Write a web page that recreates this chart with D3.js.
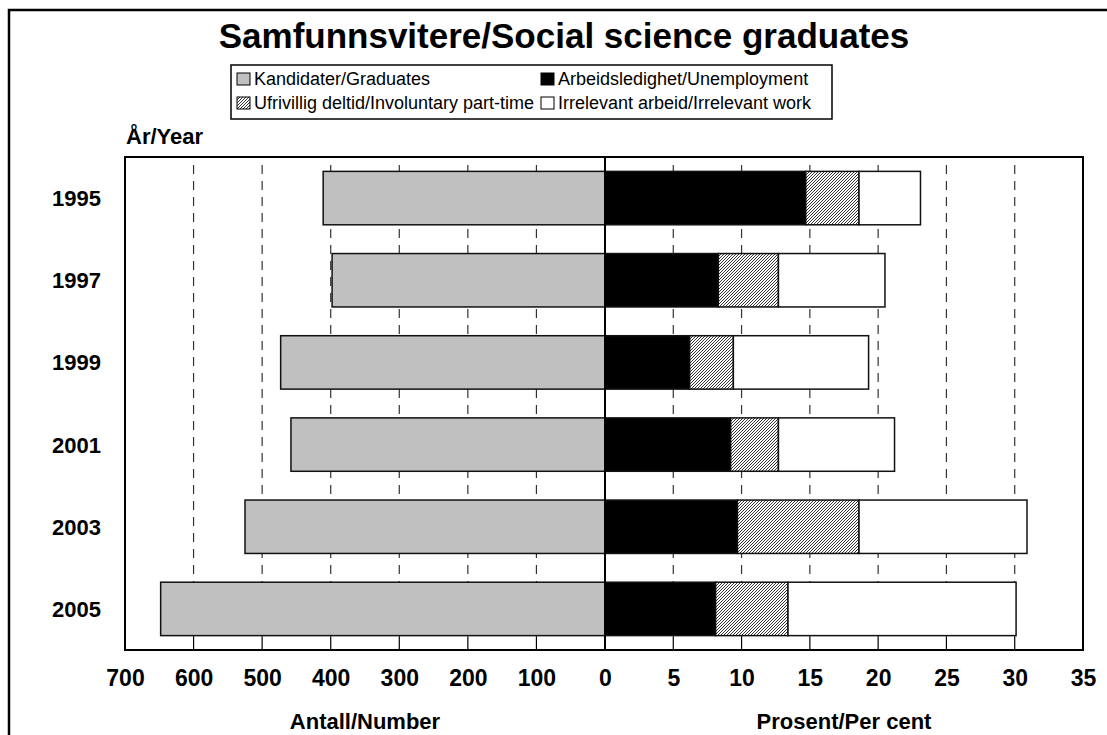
<!DOCTYPE html>
<html>
<head>
<meta charset="utf-8">
<script src="https://cdn.jsdelivr.net/npm/d3@7"></script>
<style>
  body { margin: 0; background: #fff; }
  svg { display: block; font-family: "Liberation Sans", Arial, sans-serif; }
  .tick text { font-weight: bold; font-size: 23px; fill: #000; }
</style>
</head>
<body>
<svg id="chart" width="1107" height="735"></svg>
<script>
/* data */
const years = ['1995', '1997', '1999', '2001', '2003', '2005'];
const graduates = [411, 398, 473, 458, 525, 648];
const unemployment = [14.7, 8.3, 6.2, 9.2, 9.7, 8.1];
const partTime = [3.9, 4.4, 3.2, 3.5, 8.9, 5.3];
const irrelevant = [4.5, 7.8, 9.9, 8.5, 12.3, 16.7];

const numberTicks = [700, 600, 500, 400, 300, 200, 100];
const percentTicks = [0, 5, 10, 15, 20, 25, 30, 35];

const legendItems = [
  { label: 'Kandidater/Graduates', fill: '#c0c0c0' },
  { label: 'Arbeidsledighet/Unemployment', fill: '#000' },
  { label: 'Ufrivillig deltid/Involuntary part-time', fill: 'url(#hatch)' },
  { label: 'Irrelevant arbeid/Irrelevant work', fill: '#fff' }
];

/* layout */
const plot = { left: 125, mid: 605, right: 1083, top: 157, bottom: 650 };

const svg = d3.select('#chart');

/* hatch pattern for involuntary part-time */
const defs = svg.append('defs');
const pat = defs.append('pattern')
  .attr('id', 'hatch')
  .attr('patternUnits', 'userSpaceOnUse')
  .attr('width', 3).attr('height', 3);
pat.append('rect').attr('width', 3).attr('height', 3).attr('fill', '#fff');
pat.append('path')
  .attr('d', 'M-1,1 l2,-2 M0,3 l3,-3 M2,4 l2,-2')
  .attr('stroke', '#000').attr('stroke-width', 0.8);

/* outer frame */
svg.append('rect')
  .attr('x', 9).attr('y', 10).attr('width', 1120).attr('height', 740)
  .attr('fill', 'none').attr('stroke', '#000').attr('stroke-width', 2.5);

/* scales */
const xNum = d3.scaleLinear().domain([700, 0]).range([plot.left, plot.mid]);
const xPct = d3.scaleLinear().domain([0, 35]).range([plot.mid, plot.right]);
const y = d3.scaleBand().domain(years)
  .range([plot.top, plot.bottom])
  .paddingInner(0.35).paddingOuter(0.175);

/* gridlines */
const grid = svg.append('g');
const gridX = numberTicks.filter(d => d !== 700).map(d => xNum(d))
  .concat(percentTicks.filter(d => d !== 0 && d !== 35).map(d => xPct(d)));
grid.selectAll('line.dash').data(gridX).join('line')
  .attr('class', 'dash')
  .attr('x1', d => d).attr('x2', d => d)
  .attr('y1', plot.top + 8).attr('y2', plot.bottom - 13)
  .attr('stroke', '#333').attr('stroke-width', 1.2)
  .attr('stroke-dasharray', '9,7');
grid.selectAll('line.tk').data(gridX).join('line')
  .attr('class', 'tk')
  .attr('x1', d => d).attr('x2', d => d)
  .attr('y1', plot.bottom - 13).attr('y2', plot.bottom)
  .attr('stroke', '#000').attr('stroke-width', 1.2);

/* graduates bars (left) */
svg.append('g').selectAll('rect').data(years).join('rect')
  .attr('x', (d, i) => xNum(graduates[i]))
  .attr('y', d => y(d))
  .attr('width', (d, i) => xNum(0) - xNum(graduates[i]))
  .attr('height', y.bandwidth())
  .attr('fill', '#c0c0c0')
  .attr('stroke', '#111').attr('stroke-width', 1.5);

/* stacked percent bars (right) */
const stackRows = years.map((yr, i) => ({
  year: yr, unemployment: unemployment[i], partTime: partTime[i], irrelevant: irrelevant[i]
}));
const stacked = d3.stack().keys(['unemployment', 'partTime', 'irrelevant'])(stackRows);
const fills = { unemployment: '#000', partTime: 'url(#hatch)', irrelevant: '#fff' };

svg.append('g').selectAll('g').data(stacked).join('g')
  .attr('fill', d => fills[d.key])
  .selectAll('rect').data(d => d).join('rect')
  .attr('x', d => xPct(d[0]))
  .attr('y', d => y(d.data.year))
  .attr('width', d => xPct(d[1]) - xPct(d[0]))
  .attr('height', y.bandwidth())
  .attr('stroke', '#111').attr('stroke-width', 1.5);

/* plot frame and centre line */
svg.append('rect')
  .attr('x', plot.left).attr('y', plot.top)
  .attr('width', plot.right - plot.left).attr('height', plot.bottom - plot.top)
  .attr('fill', 'none').attr('stroke', '#000').attr('stroke-width', 2);
svg.append('line')
  .attr('x1', plot.mid).attr('x2', plot.mid)
  .attr('y1', plot.top).attr('y2', plot.bottom)
  .attr('stroke', '#000').attr('stroke-width', 2);

/* x axes (labels only) */
const axNum = d3.axisBottom(xNum).tickValues(numberTicks).tickSize(0).tickPadding(20);
const axPct = d3.axisBottom(xPct).tickValues(percentTicks).tickSize(0).tickPadding(20);
svg.append('g').attr('transform', `translate(0,${plot.bottom})`).call(axNum)
  .call(g => g.select('.domain').remove());
svg.append('g').attr('transform', `translate(0,${plot.bottom})`).call(axPct)
  .call(g => g.select('.domain').remove());

/* year labels */
svg.append('g').selectAll('text').data(years).join('text')
  .attr('x', 101)
  .attr('y', d => y(d) + y.bandwidth() / 2 + 8)
  .attr('text-anchor', 'end')
  .attr('font-size', 22).attr('font-weight', 'bold')
  .text(d => d);

/* titles */
svg.append('text')
  .attr('x', 564).attr('y', 48)
  .attr('text-anchor', 'middle')
  .attr('font-size', 35).attr('font-weight', 'bold')
  .text('Samfunnsvitere/Social science graduates');

svg.append('text')
  .attr('x', 126).attr('y', 144)
  .attr('font-size', 22).attr('font-weight', 'bold')
  .text('År/Year');

svg.append('text')
  .attr('x', (plot.left + plot.mid) / 2).attr('y', 729)
  .attr('text-anchor', 'middle')
  .attr('font-size', 22).attr('font-weight', 'bold')
  .text('Antall/Number');

svg.append('text')
  .attr('x', (plot.mid + plot.right) / 2).attr('y', 729)
  .attr('text-anchor', 'middle')
  .attr('font-size', 22).attr('font-weight', 'bold')
  .text('Prosent/Per cent');

/* legend */
const legend = svg.append('g');
legend.append('rect')
  .attr('x', 231).attr('y', 65).attr('width', 601).attr('height', 54)
  .attr('fill', '#fff').attr('stroke', '#000').attr('stroke-width', 1.5);
const legendPos = [
  { x: 237, y: 73 }, { x: 541, y: 73 },
  { x: 237, y: 97 }, { x: 541, y: 97 }
];
const li = legend.selectAll('g.item').data(legendItems).join('g')
  .attr('class', 'item')
  .attr('transform', (d, i) => `translate(${legendPos[i].x},${legendPos[i].y})`);
li.append('rect')
  .attr('width', 13).attr('height', 12)
  .attr('fill', d => d.fill)
  .attr('stroke', '#000').attr('stroke-width', 1);
li.append('text')
  .attr('x', 17).attr('y', 12)
  .attr('font-size', 18)
  .text(d => d.label);
</script>
</body>
</html>
